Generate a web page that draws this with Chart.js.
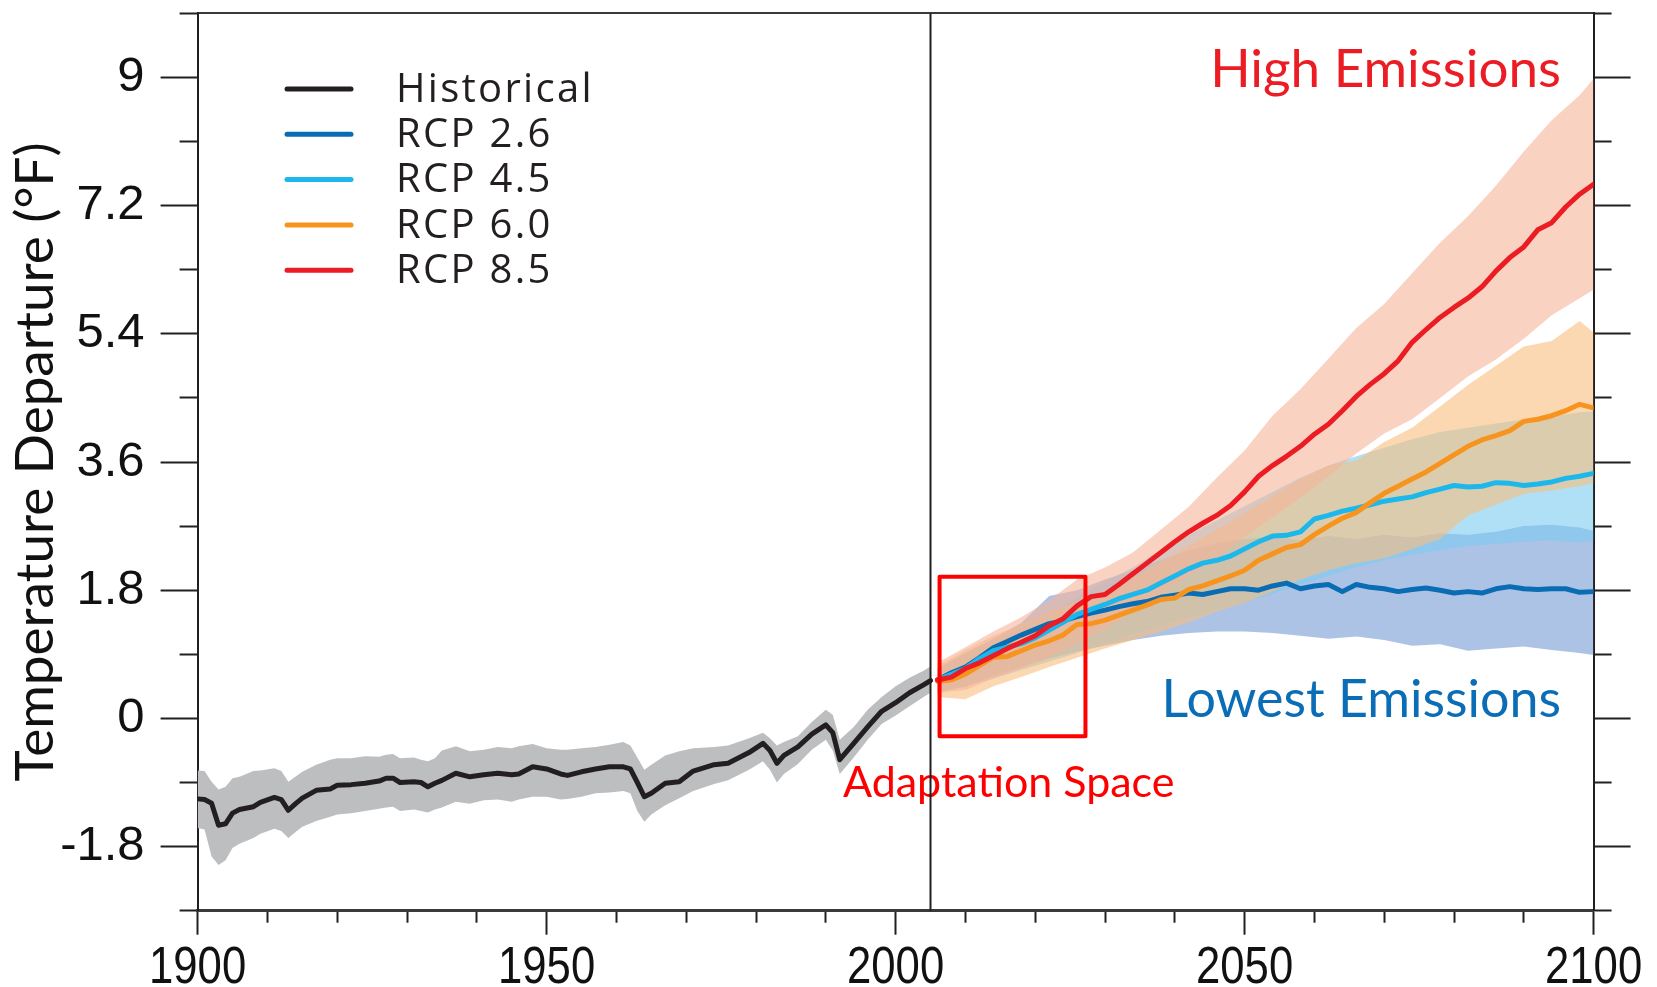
<!DOCTYPE html>
<html lang="en">
<head>
  <meta charset="UTF-8">
  <title>Temperature Departure Projections</title>
  <style>
    * {
      margin: 0;
      padding: 0;
      box-sizing: border-box;
    }

    body {
      width: 1657px;
      height: 987px;
      background: #fff;
      overflow: hidden;
    }

    #chart {
      display: block;
    }
  </style>
</head>
<body>
  <canvas id="chart" width="1657" height="987"></canvas>

  <script src="https://cdn.jsdelivr.net/npm/chart.js"></script>
  <script>
    // ---- historical (1900-2005) ----
    const histYears = [
      1900, 1901, 1902, 1903, 1904, 1905, 1906, 1908, 1909, 1911,
      1912, 1913, 1914, 1915, 1917, 1919, 1920, 1922, 1924, 1926,
      1927, 1928, 1929, 1931, 1932, 1933, 1934, 1935, 1937, 1939,
      1941, 1943, 1945, 1946, 1948, 1950, 1952, 1953, 1955, 1957,
      1959, 1961, 1962, 1963, 1964, 1965, 1967, 1969, 1971, 1974,
      1976, 1979, 1981, 1982, 1983, 1984, 1986, 1988, 1990, 1991,
      1992, 1994, 1996, 1998, 2000, 2002, 2004, 2005
    ];
    const histMean = [
      -1.13, -1.14, -1.19, -1.50, -1.48, -1.33, -1.28, -1.24, -1.18, -1.11,
      -1.14, -1.29, -1.20, -1.12, -1.01, -0.99, -0.94, -0.93, -0.91, -0.88,
      -0.84, -0.84, -0.90, -0.89, -0.90, -0.96, -0.91, -0.87, -0.77, -0.82,
      -0.79, -0.77, -0.79, -0.78, -0.68, -0.71, -0.78, -0.80, -0.75, -0.71,
      -0.68, -0.68, -0.71, -0.90, -1.10, -1.05, -0.91, -0.89, -0.74, -0.65,
      -0.63, -0.48, -0.35, -0.45, -0.63, -0.52, -0.40, -0.22, -0.09, -0.20,
      -0.58, -0.35, -0.12, 0.10, 0.22, 0.36, 0.47, 0.53
    ];
    const histUpper = [
      -0.73, -0.74, -0.89, -1.00, -0.96, -0.84, -0.82, -0.74, -0.73, -0.70,
      -0.74, -0.89, -0.82, -0.75, -0.65, -0.58, -0.56, -0.56, -0.53, -0.54,
      -0.51, -0.50, -0.56, -0.55, -0.58, -0.60, -0.56, -0.45, -0.39, -0.46,
      -0.44, -0.40, -0.42, -0.39, -0.36, -0.42, -0.44, -0.44, -0.42, -0.40,
      -0.37, -0.33, -0.38, -0.55, -0.72, -0.65, -0.52, -0.46, -0.42, -0.40,
      -0.38, -0.28, -0.20, -0.28, -0.38, -0.33, -0.25, -0.05, 0.12, 0.05,
      -0.30, -0.12, 0.12, 0.30, 0.45, 0.57, 0.67, 0.73
    ];
    const histLower = [
      -1.54, -1.56, -1.94, -2.06, -1.99, -1.82, -1.76, -1.68, -1.62, -1.55,
      -1.58, -1.68, -1.60, -1.52, -1.44, -1.38, -1.35, -1.33, -1.30, -1.27,
      -1.25, -1.24, -1.30, -1.28, -1.30, -1.32, -1.28, -1.25, -1.17, -1.20,
      -1.15, -1.14, -1.17, -1.14, -1.10, -1.10, -1.14, -1.13, -1.10, -1.05,
      -1.04, -1.02, -1.05, -1.30, -1.45, -1.35, -1.22, -1.12, -1.02, -0.92,
      -0.87, -0.72, -0.60, -0.72, -0.90, -0.78, -0.64, -0.44, -0.30, -0.45,
      -0.78, -0.55, -0.30, -0.08, 0.04, 0.17, 0.30, 0.36
    ];

    // ---- projections: multi-model means (2006-2100, every 2 years) ----
    const projYears = [
      2006, 2008, 2010, 2012, 2014, 2016, 2018, 2020,
      2022, 2024, 2026, 2028, 2030, 2032, 2034, 2036,
      2038, 2040, 2042, 2044, 2046, 2048, 2050, 2052,
      2054, 2056, 2058, 2060, 2062, 2064, 2066, 2068,
      2070, 2072, 2074, 2076, 2078, 2080, 2082, 2084,
      2086, 2088, 2090, 2092, 2094, 2096, 2098, 2100
    ];
    const rcp26Mean = [
      0.54, 0.64, 0.72, 0.85, 0.99, 1.08, 1.17, 1.25,
      1.33, 1.37, 1.43, 1.48, 1.52, 1.57, 1.61, 1.64,
      1.70, 1.73, 1.76, 1.74, 1.78, 1.82, 1.82, 1.80,
      1.86, 1.90, 1.82, 1.86, 1.88, 1.78, 1.88, 1.84,
      1.82, 1.78, 1.81, 1.83, 1.80, 1.76, 1.78, 1.76,
      1.82, 1.85, 1.82, 1.81, 1.82, 1.82, 1.77, 1.78
    ];
    const rcp45Mean = [
      0.54, 0.62, 0.70, 0.84, 0.95, 1.00, 1.05, 1.13,
      1.24, 1.35, 1.46, 1.53, 1.60, 1.68, 1.74, 1.80,
      1.90, 2.00, 2.10, 2.18, 2.22, 2.28, 2.38, 2.48,
      2.56, 2.57, 2.62, 2.80, 2.85, 2.91, 2.95, 3.00,
      3.05, 3.08, 3.11, 3.17, 3.22, 3.27, 3.25, 3.26,
      3.31, 3.30, 3.27, 3.29, 3.32, 3.37, 3.40, 3.44
    ];
    const rcp60Mean = [
      0.52, 0.54, 0.62, 0.74, 0.86, 0.87, 0.95, 1.03,
      1.09, 1.17, 1.32, 1.33, 1.38, 1.45, 1.52, 1.59,
      1.67, 1.69, 1.81, 1.86, 1.93, 2.00, 2.08, 2.22,
      2.31, 2.40, 2.44, 2.58, 2.70, 2.81, 2.89, 3.03,
      3.16, 3.26, 3.36, 3.46, 3.58, 3.70, 3.82, 3.91,
      3.97, 4.04, 4.17, 4.20, 4.25, 4.32, 4.41, 4.36
    ];
    const rcp85Mean = [
      0.54, 0.58, 0.70, 0.78, 0.88, 0.98, 1.07, 1.16,
      1.30, 1.40, 1.58, 1.71, 1.74, 1.88, 2.03, 2.18,
      2.33, 2.48, 2.62, 2.74, 2.85, 2.99, 3.18, 3.40,
      3.55, 3.68, 3.82, 3.99, 4.13, 4.32, 4.52, 4.69,
      4.84, 5.02, 5.28, 5.46, 5.63, 5.77, 5.90, 6.06,
      6.28, 6.47, 6.62, 6.86, 6.96, 7.18, 7.36, 7.50
    ];

    // ---- projections: model spread (every 4 years) ----
    const bandYears = [
      2006, 2010, 2014, 2018, 2022, 2026, 2030, 2034, 2038, 2042, 2046, 2050, 2054,
      2058, 2062, 2066, 2070, 2074, 2078, 2082, 2086, 2090, 2094, 2098, 2100
    ];
    const rcp26Upper = [0.70, 0.92, 1.12, 1.34, 1.72, 1.80, 1.95, 2.08, 2.22, 2.36, 2.46, 2.52, 2.55,
                        2.50, 2.56, 2.52, 2.58, 2.54, 2.60, 2.58, 2.62, 2.70, 2.72, 2.68, 2.63];
    const rcp26Lower = [0.38, 0.44, 0.60, 0.72, 0.84, 0.94, 1.02, 1.10, 1.16, 1.20, 1.22, 1.22, 1.20,
                        1.16, 1.12, 1.15, 1.10, 1.02, 1.04, 0.95, 0.98, 1.01, 0.96, 0.92, 0.89];
    const rcp45Upper = [0.70, 0.92, 1.10, 1.28, 1.48, 1.70, 1.92, 2.12, 2.36, 2.58, 2.78, 2.98, 3.18,
                        3.38, 3.55, 3.68, 3.80, 3.92, 4.02, 4.08, 4.14, 4.20, 4.24, 4.30, 4.31];
    const rcp45Lower = [0.36, 0.45, 0.56, 0.68, 0.80, 0.92, 1.05, 1.18, 1.30, 1.42, 1.52, 1.62, 1.75,
                        1.88, 2.00, 2.12, 2.22, 2.30, 2.36, 2.42, 2.45, 2.48, 2.50, 2.47, 2.50];
    const rcp60Upper = [0.74, 0.96, 1.16, 1.32, 1.50, 1.64, 1.80, 1.98, 2.20, 2.42, 2.65, 2.88, 3.12,
                        3.36, 3.55, 3.62, 3.88, 4.08, 4.38, 4.68, 4.95, 5.22, 5.30, 5.58, 5.42];
    const rcp60Lower = [0.30, 0.27, 0.45, 0.58, 0.72, 0.85, 0.98, 1.10, 1.22, 1.35, 1.50, 1.62, 1.78,
                        1.95, 2.08, 2.18, 2.25, 2.38, 2.52, 2.85, 3.00, 3.15, 3.20, 3.26, 3.30];
    const rcp85Upper = [0.78, 1.00, 1.22, 1.42, 1.66, 1.95, 2.12, 2.33, 2.65, 2.97, 3.38, 3.76, 4.25,
                        4.62, 5.05, 5.48, 5.82, 6.25, 6.68, 7.05, 7.48, 7.96, 8.40, 8.75, 8.98];
    const rcp85Lower = [0.36, 0.40, 0.56, 0.70, 0.86, 1.05, 1.25, 1.50, 1.75, 2.00, 2.25, 2.55, 2.82,
                        3.10, 3.40, 3.72, 4.00, 4.20, 4.50, 4.80, 5.04, 5.33, 5.66, 5.90, 6.02];

    // ---- axes ----
    const xMajorTicks = [1900, 1950, 2000, 2050, 2100];
    const xTickLabels = ['1900', '1950', '2000', '2050', '2100'];
    const xMinorTicks = [1910, 1920, 1930, 1940, 1960, 1970, 1980, 1990, 2010, 2020, 2030, 2040, 2060, 2070, 2080, 2090];
    const yMajorTicks = [-1.8, 0, 1.8, 3.6, 5.4, 7.2, 9];
    const yTickLabels = ['-1.8', '0', '1.8', '3.6', '5.4', '7.2', '9'];
    const yMinorTicks = [-2.7, -0.9, 0.9, 2.7, 4.5, 6.3, 8.1, 9.9];

    const legendLabels = ['Historical', 'RCP 2.6', 'RCP 4.5', 'RCP 6.0', 'RCP 8.5'];
    const dividerYear = 2005;
    const adaptationBox = { x0: 2006.3, x1: 2027.2, yTop: 1.99, yBottom: -0.25 };

    // colours
    const INK = '#231f20';
    const C_HIST = '#231f20', C_26 = '#0a6db4', C_45 = '#1cb8ec', C_60 = '#f7941e', C_85 = '#ec1c24';

    const pts = (xs, ys) => xs.map((x, i) => ({ x: x, y: ys[i] }));

    function band(label, xs, ys, fillColor, order) {
      return {
        label: label, data: pts(xs, ys), borderWidth: 0, pointRadius: 0,
        backgroundColor: fillColor, fill: fillColor ? '+1' : false, order: order, tension: 0
      };
    }
    function line(label, xs, ys, color, width, order) {
      return {
        label: label, data: pts(xs, ys), borderColor: color, borderWidth: width,
        pointRadius: 0, fill: false, order: order, tension: 0,
        borderJoinStyle: 'round', borderCapStyle: 'round'
      };
    }

    const tickFamily = "'Liberation Sans', Arial, sans-serif";

    const overlay = {
      id: 'overlay',
      afterDraw(chart) {
        const { ctx, chartArea } = chart;
        const x = chart.scales.x, y = chart.scales.y;
        ctx.save();

        // x tick labels (slightly condensed, like the original)
        ctx.font = "52px " + tickFamily;
        ctx.fillStyle = '#111';
        ctx.textAlign = 'center';
        ctx.textBaseline = 'alphabetic';
        xMajorTicks.forEach((v, i) => {
          ctx.save();
          ctx.translate(x.getPixelForValue(v), chartArea.bottom + 72.6);
          ctx.scale(0.84, 1);
          ctx.fillText(xTickLabels[i], 0, 0);
          ctx.restore();
        });

        // annotations
        ctx.textAlign = 'right';
        ctx.font = "53px Lato";
        ctx.fillStyle = '#ec1c24';
        ctx.fillText('High Emissions', 1561, 86.7);
        ctx.font = "52px Lato";
        ctx.fillStyle = '#0b6db5';
        ctx.fillText('Lowest Emissions', 1561, 716.7);
        ctx.textAlign = 'left';
        ctx.font = "43px Lato";
        ctx.fillStyle = '#ff0000';
        ctx.fillText('Adaptation Space', 843, 796.7);

        // adaptation box
        const bx0 = x.getPixelForValue(adaptationBox.x0), bx1 = x.getPixelForValue(adaptationBox.x1);
        const by0 = y.getPixelForValue(adaptationBox.yTop), by1 = y.getPixelForValue(adaptationBox.yBottom);
        ctx.strokeStyle = '#ff0000';
        ctx.lineWidth = 4;
        ctx.lineJoin = 'round';
        ctx.strokeRect(bx0, by0, bx1 - bx0, by1 - by0);

        // 2005 divider
        const dx = x.getPixelForValue(dividerYear);
        ctx.strokeStyle = INK;
        ctx.lineWidth = 2;
        ctx.beginPath();
        ctx.moveTo(dx, chartArea.top);
        ctx.lineTo(dx, chartArea.bottom);
        ctx.stroke();

        // legend
        const colors = [C_HIST, C_26, C_45, C_60, C_85];
        ctx.font = "40px 'Open Sans'";
        ctx.letterSpacing = '2.3px';
        ctx.textBaseline = 'middle';
        ctx.fillStyle = INK;
        ctx.lineCap = 'round';
        legendLabels.forEach((label, i) => {
          const ly = 89 + i * 45.3;
          ctx.strokeStyle = colors[i];
          ctx.lineWidth = 5;
          ctx.beginPath();
          ctx.moveTo(287, ly);
          ctx.lineTo(351, ly);
          ctx.stroke();
          ctx.fillText(label, 396, ly + 1.5);
        });
        ctx.restore();
      }
    };

    const tickList = (arr) => (scale) => { scale.ticks = arr.map(v => ({ value: v })); };
    const fixV = (w) => (s) => { s.width = w; s.paddingTop = 0; s.paddingBottom = 0; };
    const fixH = (h) => (s) => { s.height = h; s.paddingLeft = 0; s.paddingRight = 0; };

    new Chart(document.getElementById('chart'), {
      type: 'line',
      data: {
        datasets: [
          band('hist upper', histYears, histUpper, '#bcbec0', 30),
          band('hist lower', histYears, histLower, null, 30),
          band('rcp85 upper', bandYears, rcp85Upper, 'rgba(245,180,153,0.6)', 26),
          band('rcp85 lower', bandYears, rcp85Lower, null, 26),
          band('rcp60 upper', bandYears, rcp60Upper, 'rgba(250,190,127,0.6)', 27),
          band('rcp60 lower', bandYears, rcp60Lower, null, 27),
          band('rcp45 upper', bandYears, rcp45Upper, 'rgba(123,203,240,0.6)', 28),
          band('rcp45 lower', bandYears, rcp45Lower, null, 28),
          band('rcp26 upper', bandYears, rcp26Upper, 'rgba(118,155,212,0.6)', 29),
          band('rcp26 lower', bandYears, rcp26Lower, null, 29),
          line('Historical', histYears, histMean, C_HIST, 5, 5),
          line('RCP 2.6', projYears, rcp26Mean, C_26, 5, 4),
          line('RCP 4.5', projYears, rcp45Mean, C_45, 5, 3),
          line('RCP 6.0', projYears, rcp60Mean, C_60, 5, 2),
          line('RCP 8.5', projYears, rcp85Mean, C_85, 5, 1)
        ]
      },
      options: {
        responsive: false,
        animation: false,
        devicePixelRatio: 1,
        events: [],
        layout: { padding: { top: 13.3, left: 0, right: 0, bottom: 0 } },
        plugins: {
          legend: { display: false },
          tooltip: { enabled: false }
        },
        scales: {
          x: {
            type: 'linear', position: 'bottom', min: 1900, max: 2100, weight: 1,
            afterBuildTicks: tickList(xMajorTicks),
            afterFit: fixH(76.3),
            ticks: { display: false },
            grid: { drawOnChartArea: false, tickLength: 24, tickWidth: 2, tickColor: INK },
            border: { display: true, width: 3, color: '#3a3a3a' }
          },
          xMinor: {
            type: 'linear', position: 'bottom', min: 1900, max: 2100, weight: 0,
            afterBuildTicks: tickList(xMinorTicks),
            afterFit: fixH(0),
            ticks: { display: false },
            grid: { drawOnChartArea: false, tickLength: 12, tickWidth: 2, tickColor: INK },
            border: { display: false }
          },
          xTop: {
            type: 'linear', position: 'top', min: 1900, max: 2100,
            afterFit: fixH(0),
            ticks: { display: false },
            grid: { display: false },
            border: { display: true, width: 2, color: '#3a3a3a' }
          },
          y: {
            type: 'linear', position: 'left', min: -2.7, max: 9.9, weight: 1,
            afterBuildTicks: tickList(yMajorTicks),
            afterFit: fixV(197.6),
            ticks: {
              autoSkip: false, padding: 16, color: '#111',
              font: { family: tickFamily, size: 49 },
              callback: (v) => yTickLabels[yMajorTicks.indexOf(v)]
            },
            grid: { drawOnChartArea: false, tickLength: 37, tickWidth: 2, tickColor: INK },
            border: { display: true, width: 2, color: INK },
            title: {
              display: true, text: 'Temperature Departure (°F)', color: '#111',
              font: { family: 'Lato', size: 53 }, padding: { top: 4, bottom: 0 }
            }
          },
          yMinor: {
            type: 'linear', position: 'left', min: -2.7, max: 9.9, weight: 0,
            afterBuildTicks: tickList(yMinorTicks),
            afterFit: fixV(0),
            ticks: { display: false },
            grid: { drawOnChartArea: false, tickLength: 18, tickWidth: 2, tickColor: INK },
            border: { display: false }
          },
          yRight: {
            type: 'linear', position: 'right', min: -2.7, max: 9.9, weight: 1,
            afterBuildTicks: tickList(yMajorTicks),
            afterFit: fixV(63.4),
            ticks: { display: false },
            grid: { drawOnChartArea: false, tickLength: 37, tickWidth: 2, tickColor: INK },
            border: { display: true, width: 2, color: INK }
          },
          yRightMinor: {
            type: 'linear', position: 'right', min: -2.7, max: 9.9, weight: 0,
            afterBuildTicks: tickList(yMinorTicks),
            afterFit: fixV(0),
            ticks: { display: false },
            grid: { drawOnChartArea: false, tickLength: 18, tickWidth: 2, tickColor: INK },
            border: { display: false }
          }
        }
      },
      plugins: [overlay]
    });
  </script>
</body>
</html>
